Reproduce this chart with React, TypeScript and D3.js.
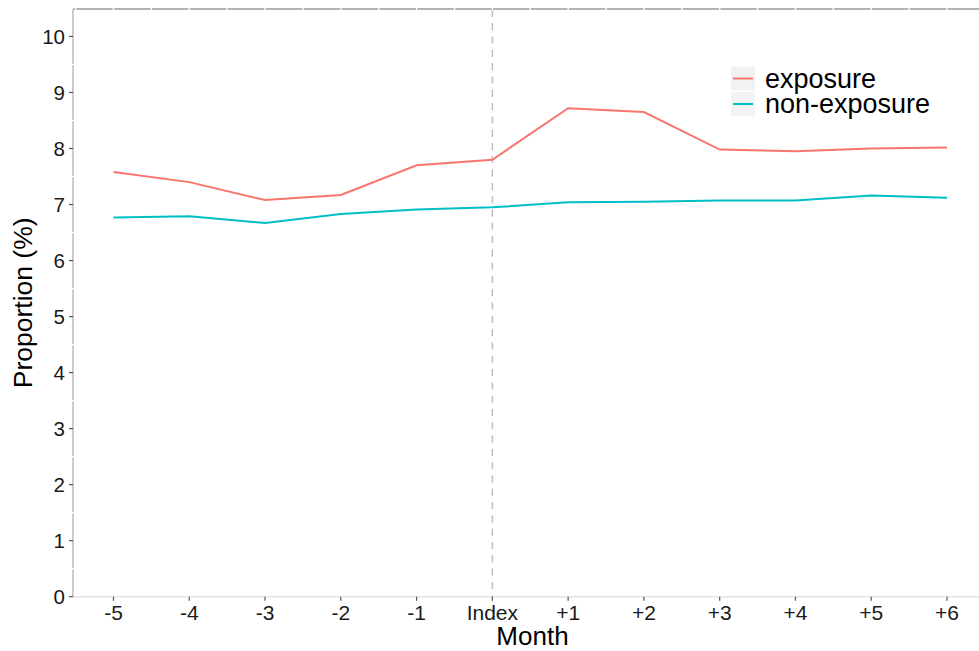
import React from "react";
import * as d3 from "d3";

const months = ["-5", "-4", "-3", "-2", "-1", "Index", "+1", "+2", "+3", "+4", "+5", "+6"];
const exposure = [7.58, 7.4, 7.08, 7.17, 7.7, 7.8, 8.72, 8.65, 7.98, 7.95, 8.0, 8.02];
const nonExposure = [6.77, 6.79, 6.67, 6.83, 6.91, 6.95, 7.04, 7.05, 7.07, 7.07, 7.16, 7.12];
const yTicks = [0, 1, 2, 3, 4, 5, 6, 7, 8, 9, 10];
const seriesNames = ["exposure", "non-exposure"];
const seriesColors = ["#F8766D", "#00BFC4"];

const W = 979;
const H = 651;
const panelLeft = 73;
const panelTop = 9;
const panelBottom = 596.7;
const panelRight = 992;

export default function App() {
  const x = d3.scalePoint<string>().domain(months).range([113.5, 947]);
  const y = d3.scaleLinear().domain([0, 10.49]).range([panelBottom, panelTop]);
  const step = x.step();
  const line = d3
    .line<number>()
    .x((_, i) => x(months[i]) as number)
    .y((d) => y(d));

  const xGaps: number[] = [];
  for (let k = -1; k < months.length + 1; k++) {
    xGaps.push((x(months[0]) as number) + k * step);
    xGaps.push((x(months[0]) as number) + (k + 0.5) * step);
  }
  const yGaps = d3.range(0.5, 10.5, 1);
  const font = "Liberation Sans, Arial, Helvetica, sans-serif";
  const series = [exposure, nonExposure];

  return (
    <svg
      width={W}
      height={H}
      style={{ position: "absolute", left: 0, top: 0, background: "#fff" }}
      fontFamily={font}
    >
      <line x1={panelLeft} x2={W} y1={panelBottom} y2={panelBottom} stroke="#e3e3e3" strokeWidth={1.5} />
      <line x1={panelLeft} x2={W} y1={panelTop} y2={panelTop} stroke="#9a9a9a" strokeWidth={1.5} />
      <line x1={panelLeft} x2={panelLeft} y1={panelTop} y2={panelBottom} stroke="#b0b0b0" strokeWidth={1.3} />
      {xGaps
        .filter((g) => g > panelLeft + 1 && g < W)
        .map((g, i) => (
          <line key={"xg" + i} x1={g} x2={g} y1={panelTop - 2} y2={panelTop + 2} stroke="#fff" strokeWidth={1.4} />
        ))}
      {yGaps.map((v, i) => (
        <line key={"yg" + i} x1={panelLeft - 2} x2={panelLeft + 2} y1={y(v)} y2={y(v)} stroke="#fff" strokeWidth={1.4} />
      ))}
      <line
        x1={x("Index") as number}
        x2={x("Index") as number}
        y1={panelTop + 1}
        y2={panelBottom}
        stroke="#bdbdbd"
        strokeWidth={1.5}
        strokeDasharray="7,6.3"
      />
      {yTicks.map((t) => (
        <g key={"yt" + t}>
          <line x1={panelLeft - 4} x2={panelLeft} y1={y(t)} y2={y(t)} stroke="#555" strokeWidth={1.2} />
          <text x={panelLeft - 8} y={y(t)} dy="0.36em" textAnchor="end" fontSize={20.5} fill="#1a1a1a">
            {t}
          </text>
        </g>
      ))}
      {months.map((m) => (
        <g key={"xt" + m}>
          <line x1={x(m) as number} x2={x(m) as number} y1={panelBottom} y2={panelBottom + 4} stroke="#555" strokeWidth={1.2} />
          <text x={x(m) as number} y={620} textAnchor="middle" fontSize={21} fill="#1a1a1a">
            {m}
          </text>
        </g>
      ))}
      {series.map((s, i) => (
        <path key={"s" + i} d={line(s) as string} fill="none" stroke={seriesColors[i]} strokeWidth={2} />
      ))}
      <text x={(panelLeft + panelRight) / 2} y={645} textAnchor="middle" fontSize={26} fill="#000">
        Month
      </text>
      <text
        transform={`translate(32, ${(panelTop + panelBottom) / 2}) rotate(-90)`}
        textAnchor="middle"
        fontSize={26.5}
        fill="#000"
      >
        Proportion (%)
      </text>
      {seriesNames.map((n, i) => (
        <g key={"lg" + n} transform={`translate(731, ${66.5 + i * 25.5})`}>
          <rect x={0} y={0} width={24} height={24} fill="#f2f2f2" />
          <line x1={2} x2={22} y1={12} y2={12} stroke={seriesColors[i]} strokeWidth={2} />
          <text x={34} y={12} dy="0.35em" fontSize={27} fill="#000">
            {n}
          </text>
        </g>
      ))}
    </svg>
  );
}
